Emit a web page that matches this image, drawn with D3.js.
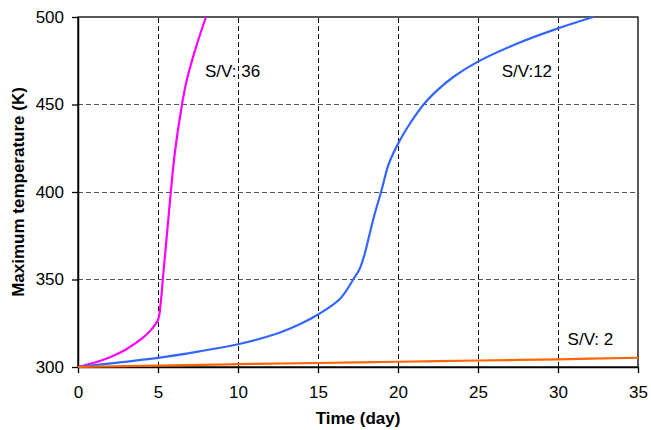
<!DOCTYPE html>
<html><head><meta charset="utf-8">
<script src="https://cdn.jsdelivr.net/npm/d3@7"></script>
<style>
body{margin:0;background:#fff;}
text{font-family:"Liberation Sans",Arial,sans-serif;}
</style></head>
<body><svg id="c" width="651" height="430"></svg>
<script>
const xTicks = [0,5,10,15,20,25,30,35];
const yTicks = [300,350,400,450,500];
const seriesNames = ["S/V: 36","S/V:12","S/V: 2"];
const sv36Time = [0,1,2,3,4,4.5,5,5.15,5.3,5.46,5.63,5.8,6.06,6.5,6.8,7.4,8];
const sv36Temp = [300,302.4,305.6,310,316.3,320.5,327,335,350,366,383,400,423,450,464,483.5,500];
const sv12Time = [0,2.5,5,7.5,10,12.5,13.86,15,16.4,17.2,17.6,17.9,18.2,18.5,18.94,19.4,19.7,20,20.6,21.6,22.5,23.5,25,27.5,30,32.2];
const sv12Temp = [300,302.5,305.2,308.8,313,319.3,324.4,330,339.2,350,356,364,375,386,400,415.5,422,427.5,437,450,458.5,466,474.5,485,493.5,500];
const sv2Time = [0,5,10,15,20,25,30,35];
const sv2Temp = [300,300.8,301.6,302.3,303,303.7,304.4,305.3];

const W=651,H=430;
const m={l:78,t:17,r:651-638,b:430-367};
const svg=d3.select("#c");
const x=d3.scaleLinear().domain([0,35]).range([m.l,W-m.r]);
const y=d3.scaleLinear().domain([300,500]).range([H-m.b,m.t]);

// grid
svg.append("g").attr("shape-rendering","crispEdges").selectAll("line").data(yTicks.filter(v=>v>300&&v<500)).join("line")
  .attr("x1",x(0)).attr("x2",x(35)).attr("y1",d=>y(d)).attr("y2",d=>y(d))
  .attr("stroke","#555").attr("stroke-width",1).attr("stroke-dasharray","5,3");
svg.append("g").attr("shape-rendering","crispEdges").selectAll("line").data(xTicks.filter(v=>v>0&&v<35)).join("line")
  .attr("y1",y(300)).attr("y2",y(500)).attr("x1",d=>x(d)).attr("x2",d=>x(d))
  .attr("stroke","#000").attr("stroke-width",1).attr("stroke-dasharray","5,3");

// frame
svg.append("rect").attr("x",x(0)).attr("y",y(500)).attr("width",x(35)-x(0)).attr("height",y(300)-y(500))
  .attr("fill","none").attr("stroke","#000").attr("stroke-width",1.3);

// axes
const xa=svg.append("g").attr("transform",`translate(0,${y(300)})`)
  .call(d3.axisBottom(x).tickValues(xTicks).tickSize(6).tickPadding(13).tickSizeOuter(0));
const ya=svg.append("g").attr("transform",`translate(${x(0)},0)`)
  .call(d3.axisLeft(y).tickValues(yTicks).tickSize(6).tickPadding(8).tickSizeOuter(0));
[xa,ya].forEach(a=>{a.select(".domain").attr("stroke","#000").attr("stroke-width",1.5);
  a.selectAll(".tick line").attr("stroke","#000").attr("stroke-width",1.3);
  a.selectAll("text").attr("font-size",17).attr("fill","#000").attr("font-family","Liberation Sans, Arial, sans-serif");});

// lines
const line=d3.line().x(d=>x(d[0])).y(d=>y(d[1])).curve(d3.curveCatmullRom.alpha(0.5));
const series=[
  {t:sv36Time,v:sv36Temp,c:"#ff00ff"},
  {t:sv12Time,v:sv12Temp,c:"#3366ff"},
  {t:sv2Time,v:sv2Temp,c:"#ff6600"}];
series.forEach(s=>{
  svg.append("path").datum(s.t.map((t,i)=>[t,s.v[i]])).attr("d",line)
    .attr("fill","none").attr("stroke",s.c).attr("stroke-width",2.2);
});

// labels
const lbl=[[seriesNames[0],7.94,465.7],[seriesNames[1],26.48,465.7],[seriesNames[2],30.6,312.6]];
lbl.forEach(l=>svg.append("text").attr("x",x(l[1])).attr("y",y(l[2])).text(l[0])
  .attr("font-size",17).attr("fill","#000"));

// titles
svg.append("text").attr("x",(x(0)+x(35))/2).attr("y",424).attr("text-anchor","middle")
  .attr("font-size",17).attr("font-weight","bold").text("Time (day)");
svg.append("text").attr("transform",`translate(24,${(y(300)+y(500))/2}) rotate(-90)`)
  .attr("text-anchor","middle").attr("font-size",17).attr("font-weight","bold").text("Maximum temperature (K)");
</script></body></html>
